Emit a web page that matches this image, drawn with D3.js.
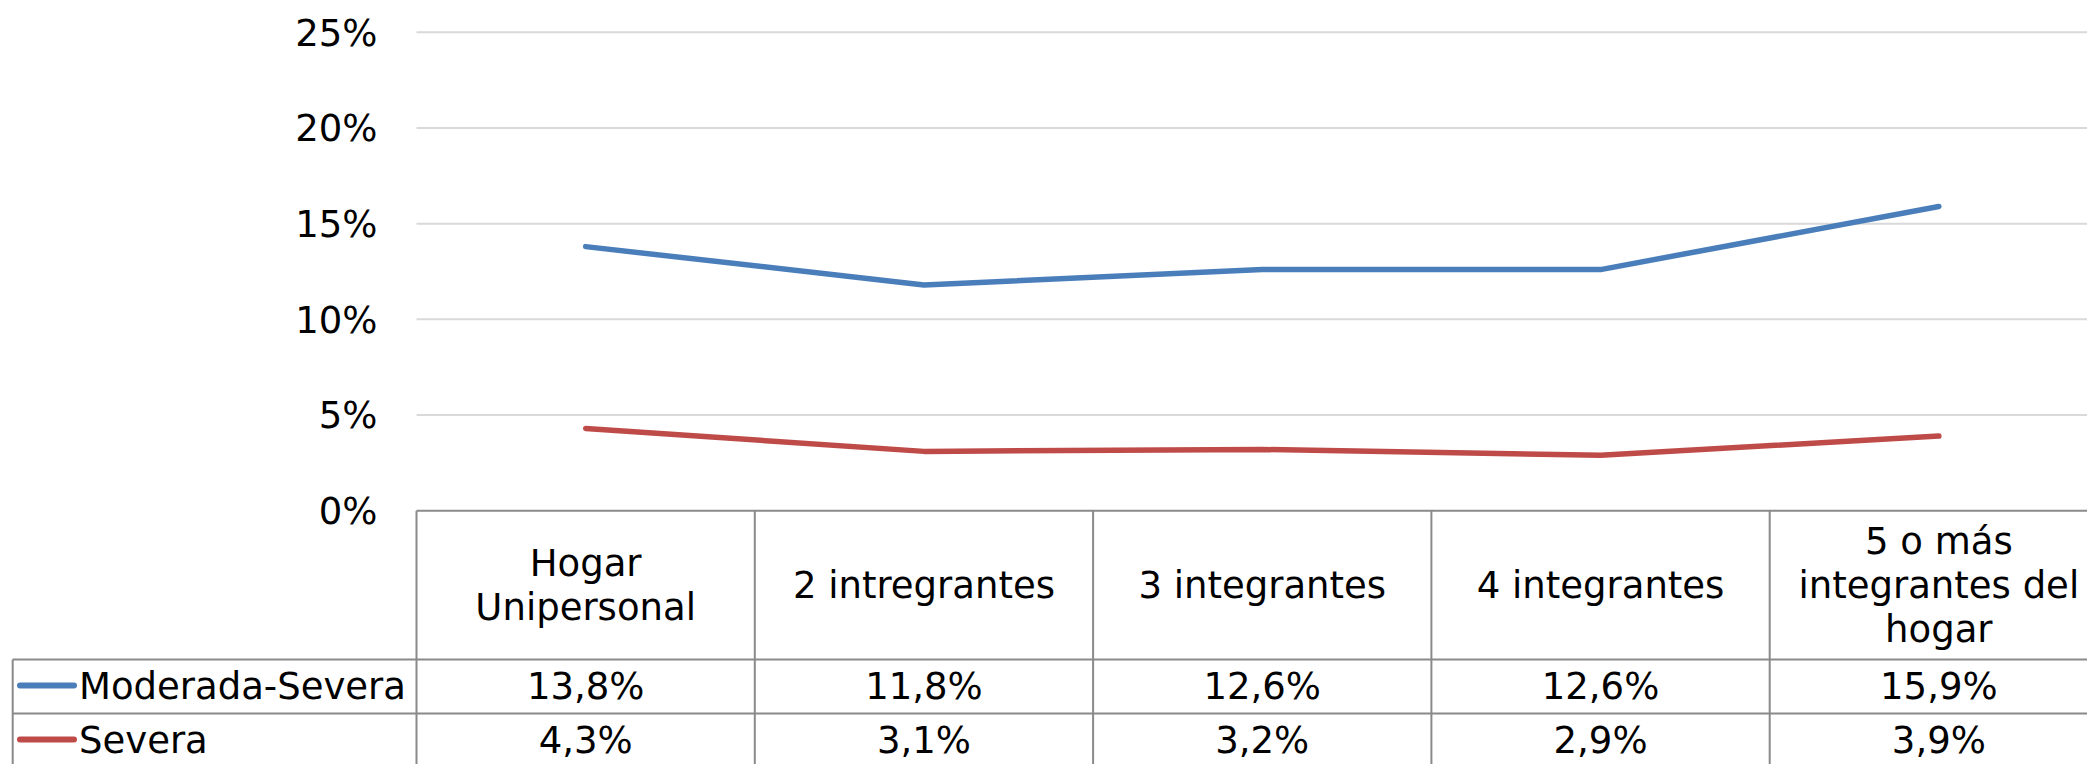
<!DOCTYPE html>
<html>
<head>
<meta charset="utf-8">
<script src="https://cdn.jsdelivr.net/npm/d3@7"></script>
<style>
  html, body { margin: 0; padding: 0; background: #fff; }
  svg { display: block; font-family: "DejaVu Sans", Verdana, sans-serif; }
</style>
</head>
<body>
<div id="chart"></div>
<script>
// categories (one entry per line of the header cell)
var categories = [
  ["Hogar", "Unipersonal"],
  ["2 intregrantes"],
  ["3 integrantes"],
  ["4 integrantes"],
  ["5 o más", "integrantes del", "hogar"]
];
var seriesNames = ["Moderada-Severa", "Severa"];
var moderadaSevera = [13.8, 11.8, 12.6, 12.6, 15.9];
var severa = [4.3, 3.1, 3.2, 2.9, 3.9];
var yTicks = [0, 5, 10, 15, 20, 25];

var width = 2087, height = 764;
var plotLeft = 416.5, colW = 338.3;
var yTop = 32.3, yBottom = 510.7;
var rowH = 54;
var legendLeft = 12.7;
var colors = ["#4a7ebb", "#be4b48"];
var borderColor = "#8a8a8a";
var fontSize = 37;

var series = [
  { name: seriesNames[0], values: moderadaSevera, color: colors[0] },
  { name: seriesNames[1], values: severa, color: colors[1] }
];

var locale = d3.formatLocale({ decimal: ",", thousands: ".", grouping: [3], currency: ["", ""] });
var fmt = locale.format(".1f");

var svg = d3.select("#chart").append("svg")
  .attr("width", width)
  .attr("height", height);

var keys = categories.map(function (c, i) { return "c" + i; });

var x = d3.scaleBand()
  .domain(keys)
  .range([plotLeft, plotLeft + colW * categories.length])
  .padding(0);

var y = d3.scaleLinear()
  .domain([0, 25])
  .range([yBottom, yTop]);

// gridlines
svg.append("g")
  .selectAll("line")
  .data(yTicks.filter(function (d) { return d > 0; }))
  .enter().append("line")
  .attr("x1", plotLeft)
  .attr("x2", width)
  .attr("y1", function (d) { return y(d); })
  .attr("y2", function (d) { return y(d); })
  .attr("stroke", "#d9d9d9")
  .attr("stroke-width", 2);

// y axis labels
var yAxis = svg.append("g")
  .attr("transform", "translate(" + plotLeft + ",0)")
  .call(d3.axisLeft(y).tickValues(yTicks).tickSize(0).tickPadding(39)
    .tickFormat(function (d) { return d + "%"; }));
yAxis.select(".domain").remove();
yAxis.selectAll("text")
  .attr("font-size", fontSize)
  .attr("font-family", "DejaVu Sans, Verdana, sans-serif")
  .attr("fill", "#000")
  .attr("dy", "0.35em");

// lines
var line = d3.line()
  .x(function (d, i) { return x(keys[i]) + x.bandwidth() / 2; })
  .y(function (d) { return y(d); });

svg.append("g")
  .selectAll("path")
  .data(series)
  .enter().append("path")
  .attr("d", function (s) { return line(s.values); })
  .attr("fill", "none")
  .attr("stroke", function (s) { return s.color; })
  .attr("stroke-width", 5.5)
  .attr("stroke-linecap", "round")
  .attr("stroke-linejoin", "round");

// data table
var table = svg.append("g");
var row1 = yBottom + 148.8;
var tableRight = plotLeft + colW * categories.length;

// horizontal borders
table.append("line")
  .attr("x1", plotLeft).attr("x2", tableRight)
  .attr("y1", yBottom).attr("y2", yBottom);
[0, 1, 2].forEach(function (r) {
  table.append("line")
    .attr("x1", legendLeft).attr("x2", tableRight)
    .attr("y1", row1 + r * rowH).attr("y2", row1 + r * rowH);
});
// vertical borders
table.append("line")
  .attr("x1", legendLeft).attr("x2", legendLeft)
  .attr("y1", row1).attr("y2", row1 + 2 * rowH);
keys.forEach(function (k) {
  table.append("line")
    .attr("x1", x(k)).attr("x2", x(k))
    .attr("y1", yBottom).attr("y2", row1 + 2 * rowH);
});
table.append("line")
  .attr("x1", tableRight).attr("x2", tableRight)
  .attr("y1", yBottom).attr("y2", row1 + 2 * rowH);
table.selectAll("line")
  .attr("stroke", borderColor)
  .attr("stroke-width", 2);

// header cells
var headerMid = (yBottom + row1) / 2;
var lineGap = 44;
table.selectAll(".hdr")
  .data(categories)
  .enter().append("text")
  .attr("class", "hdr")
  .attr("text-anchor", "middle")
  .attr("font-size", fontSize)
  .attr("fill", "#000")
  .each(function (lines, i) {
    var t = d3.select(this);
    var cx = x(keys[i]) + x.bandwidth() / 2;
    var start = headerMid - (lines.length - 1) * lineGap / 2;
    lines.forEach(function (l, j) {
      t.append("tspan")
        .attr("x", cx)
        .attr("y", start + j * lineGap)
        .attr("dy", "0.35em")
        .text(l);
    });
  });

// value rows + legend keys
series.forEach(function (s, r) {
  var cy = row1 + r * rowH + rowH / 2;
  table.append("line")
    .attr("x1", 20).attr("x2", 74)
    .attr("y1", cy - 1).attr("y2", cy - 1)
    .attr("stroke", s.color)
    .attr("stroke-width", 6)
    .attr("stroke-linecap", "round");
  table.append("text")
    .attr("x", 79)
    .attr("y", cy)
    .attr("dy", "0.35em")
    .attr("font-size", fontSize)
    .attr("fill", "#000")
    .text(s.name);
  table.selectAll(".v" + r)
    .data(s.values)
    .enter().append("text")
    .attr("class", "v" + r)
    .attr("x", function (d, i) { return x(keys[i]) + x.bandwidth() / 2; })
    .attr("y", cy)
    .attr("dy", "0.35em")
    .attr("text-anchor", "middle")
    .attr("font-size", fontSize)
    .attr("fill", "#000")
    .text(function (d) { return fmt(d) + "%"; });
});
</script>
</body>
</html>
